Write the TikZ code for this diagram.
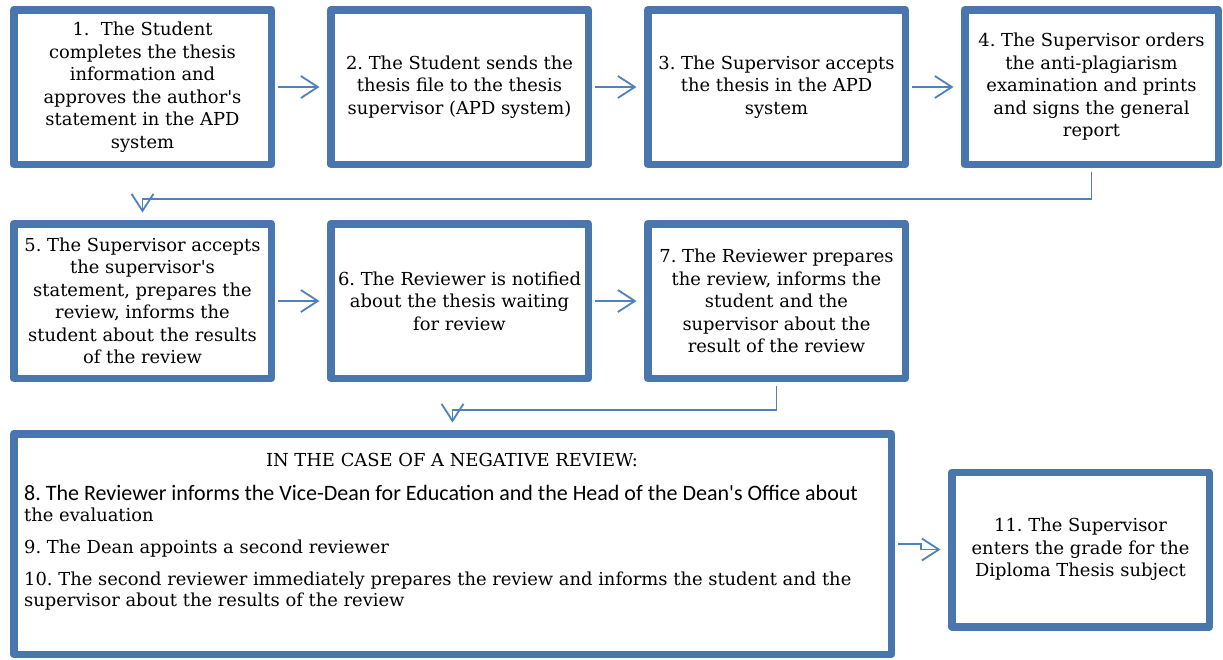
\documentclass[tikz,border=0pt]{standalone}
\usepackage{fontspec}
\setmainfont{DejaVu Serif}[Ligatures=TeXOff]
\newfontfamily\carl{Carlito}[Ligatures=TeXOff]
\usetikzlibrary{arrows.meta,shadows}
\definecolor{boxblue}{RGB}{74,118,174}
\definecolor{linkblue}{RGB}{79,129,189}
\frenchspacing
\begin{document}
\begin{tikzpicture}[x=1pt,y=-1pt,
  box/.style={draw=boxblue, line width=7.5pt, line join=round, fill=white,
    minimum width=257.5pt, minimum height=154.5pt, inner sep=0pt, align=center,
    font=\fontsize{17.9}{22.5}\selectfont,
    drop shadow={shadow xshift=2pt, shadow yshift=-2.5pt, opacity=0.22, fill=black}},
  link/.style={draw=linkblue, line width=1.8pt,
    -{Straight Barb[length=17pt,width=22pt]}, shorten >=7.5pt, shorten <=3pt},
  txt/.style={inner sep=0pt, font=\fontsize{17.9}{22.5}\selectfont}]
\useasboundingbox (0,0) rectangle (1223,659);
\fill[white] (0,0) rectangle (1223,659);

\node[box] (b1) at (142.5,87) {1.~ The Student\\completes the thesis\\information and\\approves the author's\\statement in the APD\\system};
\node[box] (b2) at (459.5,87) {2. The Student sends the\\thesis file to the thesis\\supervisor (APD system)};
\node[box] (b3) at (776.5,87) {3. The Supervisor accepts\\the thesis in the APD\\system};
\node[box, minimum width=253.5pt] (b4) at (1091.5,87) {4. The Supervisor orders\\the anti-plagiarism\\examination and prints\\and signs the general\\report};

\node[box] (b5) at (142.5,301) {5. The Supervisor accepts\\the supervisor's\\statement, prepares the\\review, informs the\\student about the results\\of the review};
\node[box] (b6) at (459.5,301) {6. The Reviewer is notified\\about the thesis waiting\\for review};
\node[box] (b7) at (776.5,301) {7. The Reviewer prepares\\the review, informs the\\student and the\\supervisor about the\\result of the review};

\node[box, minimum width=877.5pt, minimum height=220.5pt] (big) at (452.5,544) {};
\node[box] (b11) at (1080.5,549.5) {11. The Supervisor\\enters the grade for the\\Diploma Thesis subject};

\node[txt, anchor=base] (hdr) at (452,466) {IN THE CASE OF A NEGATIVE REVIEW:};
\node[txt, anchor=base west] (l8a) at (24,500) {\carl\fontsize{22}{22.5}\selectfont 8. The Reviewer informs the Vice-Dean for Education and the Head of the Dean's Office about};
\node[txt, anchor=base west] (l8b) at (24,521) {the evaluation};
\node[txt, anchor=base west] (l9) at (24,553) {9. The Dean appoints a second reviewer};
\node[txt, anchor=base west] (l10a) at (24,585) {10. The second reviewer immediately prepares the review and informs the student and the};
\node[txt, anchor=base west] (l10b) at (24,606) {supervisor about the results of the review};

\draw[link] (b1.east) -- (b2.west);
\draw[link] (b2.east) -- (b3.west);
\draw[link] (b3.east) -- (b4.west);
\draw[link] (b5.east) -- (b6.west);
\draw[link] (b6.east) -- (b7.west);
\draw[link, shorten <=3.75pt] (b4.south) -- ++(0,30.75) -| (b5.north);
\draw[link, shorten <=3.75pt] (b7.south) -- ++(0,27.75) -| (big.north);
\draw[link] (big.east) -- ++(26,0) |- (b11.west);
\end{tikzpicture}
\end{document}
